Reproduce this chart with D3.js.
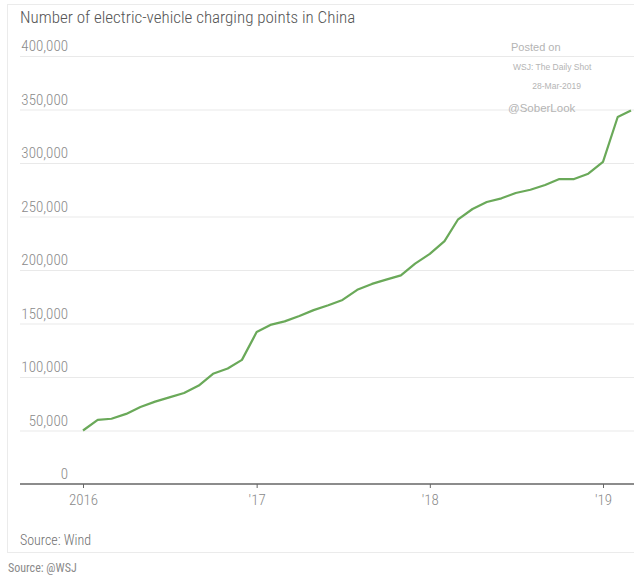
<!DOCTYPE html>
<html>
<head>
<meta charset="utf-8">
<script src="https://cdn.jsdelivr.net/npm/d3@7"></script>
<style>
  body { margin: 0; background: #fff; }
  svg text { font-family: "Liberation Sans Narrow", "Roboto Condensed", "Arial Narrow", sans-serif; }
  .grid line { stroke: #e9e9e9; stroke-width: 1; }
  .grid path { display: none; }
  .ylab { fill: #8a8a8a; font-size: 15px; font-weight: 300; }
  .x.axis path, .x.axis line { stroke: #666; }
  .x.axis text { fill: #8a8a8a; font-size: 15px; font-weight: 300; }
  .wm { font-family: "Liberation Sans", Arial, sans-serif !important; fill: #b4b4b4; }
</style>
</head>
<body>
<div id="chart"></div>
<script>
// Number of EV charging points in China, monthly, Jan 2016 - Mar 2019
// values (thousands)

var startYear = 2016;
var startMonth = 0;   // January

var points2016 = [50, 60, 61, 65.5, 72, 77, 81, 85, 92, 103, 108, 116];
var points2017 = [142, 149, 152, 157, 162.5, 167, 172, 181.5, 187, 191, 195, 206];
var points2018 = [215, 227, 247, 257, 263.5, 267, 272, 275, 279.5, 285, 285, 290];
var points2019 = [301, 343, 349];

var yTicks = [0, 50000, 100000, 150000, 200000, 250000, 300000, 350000, 400000];
var xTickYears = [2016, 2017, 2018, 2019];
var xTickLabels = ["2016", "'17", "'18", "'19"];

var width = 634, height = 577;

// Build monthly series
var allPoints = points2016.concat(points2017, points2018, points2019);
var data = allPoints.map(function (v, i) {
  return { date: new Date(startYear, startMonth + i, 1), value: v * 1000 };
});

var svg = d3.select("#chart").append("svg")
    .attr("width", width)
    .attr("height", height);

// light frame around the graphic
svg.append("rect")
    .attr("x", 7.5).attr("y", 4.5)
    .attr("width", 640).attr("height", 548)
    .attr("fill", "none")
    .attr("stroke", "#ebebeb");

// Scales
var x = d3.scaleTime()
    .domain([new Date(2016, 0, 1), new Date(2019, 0, 1)])
    .range([83, 603]);

var y = d3.scaleLinear()
    .domain([0, 400000])
    .range([484, 56]);

// Horizontal gridlines
svg.append("g")
    .attr("class", "grid")
    .attr("transform", "translate(20,0)")
    .call(d3.axisRight(y).tickValues(yTicks.slice(1)).tickSize(width - 20).tickFormat(""));

// Y labels, right aligned, sitting above the gridlines
svg.selectAll(".ylab")
    .data(yTicks)
    .enter().append("text")
    .attr("class", "ylab")
    .attr("x", 68)
    .attr("y", function (d) { return y(d) - 5; })
    .attr("text-anchor", "end")
    .text(function (d) { return d3.format(",")(d); });

// X axis
var xAxis = d3.axisBottom(x)
    .tickValues(xTickYears.map(function (yr) { return new Date(yr, 0, 1); }))
    .tickSize(4)
    .tickPadding(6)
    .tickFormat(function (d, i) { return xTickLabels[i]; });

var gx = svg.append("g")
    .attr("class", "x axis")
    .attr("transform", "translate(0," + y(0) + ")")
    .call(xAxis);
gx.select(".domain")
    .attr("d", "M20,0H" + width)
    .attr("stroke-width", 1.5);

// The line
var line = d3.line()
    .x(function (d) { return x(d.date); })
    .y(function (d) { return y(d.value); });

svg.append("path")
    .datum(data)
    .attr("fill", "none")
    .attr("stroke", "#6aa959")
    .attr("stroke-width", 2.2)
    .attr("stroke-linejoin", "round")
    .attr("d", line);

// Title
svg.append("text")
    .attr("x", 20).attr("y", 23)
    .attr("fill", "#555")
    .style("font-size", "17px")
    .style("font-weight", 300)
    .text("Number of electric-vehicle charging points in China");

// Watermark
svg.append("text").attr("class", "wm")
    .attr("x", 511).attr("y", 51)
    .style("font-size", "11px")
    .text("Posted on");
svg.append("text").attr("class", "wm")
    .attr("x", 513).attr("y", 70)
    .style("font-size", "8.5px")
    .text("WSJ: The Daily Shot");
svg.append("text").attr("class", "wm")
    .attr("x", 581).attr("y", 89)
    .attr("text-anchor", "end")
    .style("font-size", "8.5px")
    .text("28-Mar-2019");
svg.append("text").attr("class", "wm")
    .attr("x", 508).attr("y", 112)
    .style("font-size", "11.5px")
    .text("@SoberLook");

// Sources
svg.append("text")
    .attr("x", 20).attr("y", 545)
    .attr("fill", "#707070")
    .style("font-size", "14px")
    .style("font-weight", 300)
    .text("Source: Wind");

svg.append("text")
    .attr("x", 8).attr("y", 572)
    .attr("fill", "#8a8a8a")
    .style("font-size", "12px")
    .text("Source: @WSJ");
</script>
</body>
</html>
